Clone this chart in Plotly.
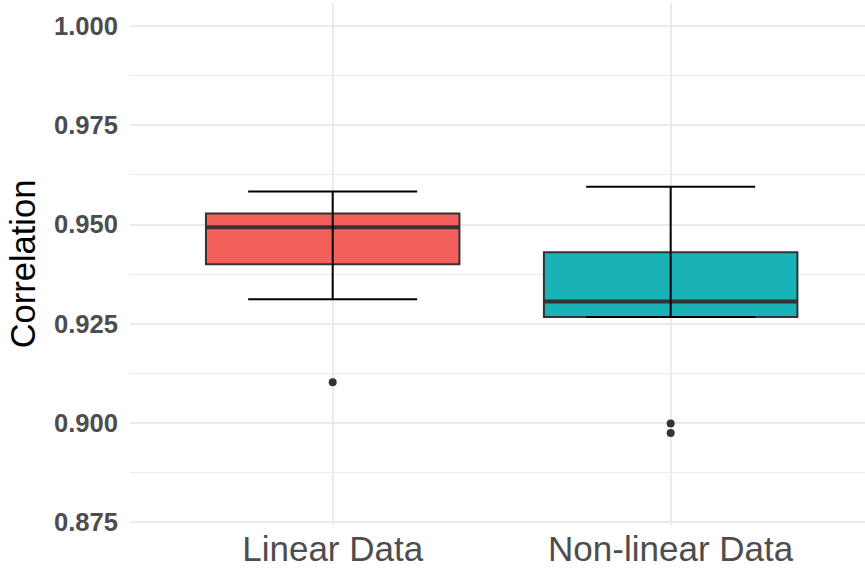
import plotly.graph_objects as go

# Box-plot summary statistics for each data set
categories = ["Linear Data", "Non-linear Data"]
positions = [1, 2]
q1 = [0.9400, 0.9267]
median = [0.9493, 0.9306]
q3 = [0.9528, 0.9430]
lower_whisker = [0.9312, 0.9267]
upper_whisker = [0.9583, 0.9595]
outlier_x = [1, 2, 2]
outlier_y = [0.9103, 0.8999, 0.8975]
fill_colors = ["#F45F5B", "#19B2B6"]

y_ticks = [0.875, 0.900, 0.925, 0.950, 0.975, 1.000]

BOX_WIDTH = 0.75
CAP_WIDTH = 0.5
EDGE = "#333333"

fig = go.Figure()

# Boxes (quartiles)
for pos, a, m, b, col in zip(positions, q1, median, q3, fill_colors):
    fig.add_trace(go.Box(
        x=[pos], q1=[a], median=[m], q3=[b], lowerfence=[a], upperfence=[b],
        width=BOX_WIDTH, fillcolor=col, line=dict(color=EDGE, width=2),
        whiskerwidth=0, boxpoints=False, hoverinfo="skip",
    ))

# Thick median lines
mx, my = [], []
for pos, m in zip(positions, median):
    mx += [pos - BOX_WIDTH / 2, pos + BOX_WIDTH / 2, None]
    my += [m, m, None]
fig.add_trace(go.Scatter(x=mx, y=my, mode="lines", line=dict(color=EDGE, width=4),
                         hoverinfo="skip"))

# Error-bar style whiskers with caps
ex, ey = [], []
for pos, lo, hi in zip(positions, lower_whisker, upper_whisker):
    ex += [pos, pos, None,
           pos - CAP_WIDTH / 2, pos + CAP_WIDTH / 2, None,
           pos - CAP_WIDTH / 2, pos + CAP_WIDTH / 2, None]
    ey += [lo, hi, None, hi, hi, None, lo, lo, None]
fig.add_trace(go.Scatter(x=ex, y=ey, mode="lines", line=dict(color="black", width=2),
                         hoverinfo="skip"))

# Outliers
fig.add_trace(go.Scatter(x=outlier_x, y=outlier_y, mode="markers",
                         marker=dict(color=EDGE, size=8), hoverinfo="skip"))

fig.update_layout(
    width=865, height=570,
    margin=dict(l=130, r=0, t=3, b=45),
    paper_bgcolor="white", plot_bgcolor="white",
    showlegend=False,
    font=dict(family="Liberation Sans, Arial, sans-serif"),
    xaxis=dict(
        range=[0.4003, 2.575],
        tickmode="array", tickvals=positions, ticktext=categories,
        tickfont=dict(size=35, color="#4D4D4D"),
        showgrid=True, gridcolor="#EBEBEB", gridwidth=2,
        zeroline=False, showline=False, ticks="",
    ),
    yaxis=dict(
        range=[0.87432, 1.00579],
        tickmode="array", tickvals=y_ticks, tickformat=".3f",
        tickfont=dict(size=25.6, color="#4D4D4D", weight="bold"),
        showgrid=True, gridcolor="#EBEBEB", gridwidth=2,
        minor=dict(tickmode="array", tickvals=[0.8875, 0.9125, 0.9375, 0.9625, 0.9875],
                   showgrid=True, gridcolor="#EBEBEB", gridwidth=1),
        zeroline=False, showline=False, ticks="",
        ticklabelstandoff=11,
        title=dict(text="Correlation", font=dict(size=34.5, color="black"), standoff=7),
    ),
)

fig.write_html("out.html")
